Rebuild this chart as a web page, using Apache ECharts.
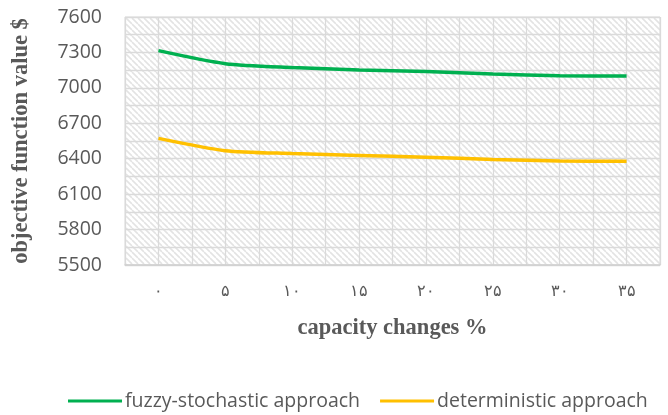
<!DOCTYPE html>
<html>
<head>
<meta charset="utf-8">
<script src="https://cdn.jsdelivr.net/npm/echarts@6/dist/echarts.min.js"></script>
<style>html,body{margin:0;padding:0;background:#fff;}#c{width:668px;height:415px;}</style>
</head>
<body>
<div id="c"></div>
<script>
const categories = ['۰', '۵', '۱۰', '۱۵', '۲۰', '۲۵', '۳۰', '۳۵'];
const fuzzyStochastic = [7315, 7205, 7172, 7152, 7138, 7118, 7103, 7100];
const deterministic = [6572, 6468, 6444, 6428, 6412, 6394, 6380, 6378];
const seriesNames = ['fuzzy-stochastic approach', 'deterministic approach'];

const pc = document.createElement('canvas');
pc.width = 6; pc.height = 6;
const px = pc.getContext('2d');
px.fillStyle = '#ffffff';
px.fillRect(0, 0, 6, 6);
px.strokeStyle = '#e3e3e3';
px.lineWidth = 1.6;
for (let k = -6; k <= 12; k += 6) {
  px.beginPath();
  px.moveTo(k, 0);
  px.lineTo(k + 6, 6);
  px.stroke();
}

const chart = echarts.init(document.getElementById('c'), null, {renderer: 'canvas'});
const gridCol = '#dadada';
chart.setOption({
  animation: false,
  grid: {
    left: 125, right: 8, top: 17, bottom: 150,
    show: true,
    backgroundColor: {image: pc, repeat: 'repeat'},
    borderColor: gridCol, borderWidth: 1
  },
  legend: {
    left: 68, top: 391, width: 620, padding: 0,
    icon: 'rect', itemWidth: 54, itemHeight: 3, itemGap: 20,
    textStyle: {fontFamily: 'Open Sans', fontSize: 19.5, color: '#595959', padding: [0, 0, 0, -2]},
    data: seriesNames
  },
  xAxis: [{
    type: 'category',
    data: categories,
    boundaryGap: true,
    axisLine: {show: true, lineStyle: {color: '#d0d0d0', width: 1.5}},
    axisTick: {show: false},
    splitLine: {show: false},
    axisLabel: {fontFamily: 'DejaVu Serif', fontSize: 16, color: '#595959', margin: 19},
    name: 'capacity changes %',
    nameLocation: 'middle',
    nameGap: 52,
    nameTextStyle: {fontFamily: 'Liberation Serif', fontWeight: 'bold', fontSize: 22.5, color: '#595959'}
  }, {
    type: 'value', min: 0, max: 16, interval: 1, position: 'top',
    axisLine: {show: false}, axisTick: {show: false}, axisLabel: {show: false},
    splitLine: {show: true, lineStyle: {color: gridCol, width: 1.3}}
  }],
  yAxis: {
    type: 'value', min: 5500, max: 7600, interval: 300,
    axisLine: {show: false}, axisTick: {show: false},
    axisLabel: {fontFamily: 'Open Sans', fontSize: 19.5, color: '#595959', margin: 23,
      formatter: function (v) { return String(v); }},
    splitLine: {show: true, lineStyle: {color: gridCol, width: 1.3}},
    minorTick: {show: false, splitNumber: 2},
    minorSplitLine: {show: true, lineStyle: {color: gridCol, width: 1.3}},
    name: 'objective function value $',
    nameLocation: 'middle',
    nameGap: 92,
    nameTextStyle: {fontFamily: 'Liberation Serif', fontWeight: 'bold', fontSize: 22.5, color: '#595959'}
  },
  series: [{
    name: seriesNames[0], type: 'line', data: fuzzyStochastic, xAxisIndex: 0,
    smooth: 0.25, showSymbol: false, symbol: 'none',
    lineStyle: {color: '#00B050', width: 3.5}, itemStyle: {color: '#00B050'}
  }, {
    name: seriesNames[1], type: 'line', data: deterministic, xAxisIndex: 0,
    smooth: 0.25, showSymbol: false, symbol: 'none',
    lineStyle: {color: '#FFC000', width: 3.5}, itemStyle: {color: '#FFC000'}
  }]
});
</script>
</body>
</html>
